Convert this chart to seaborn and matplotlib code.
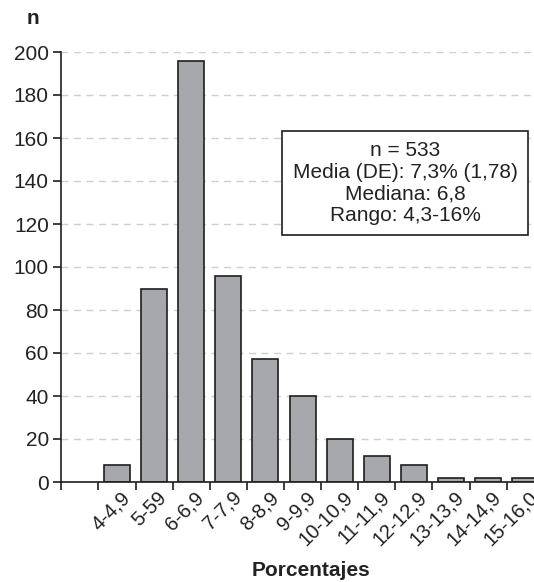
import numpy as np
import pandas as pd
import seaborn as sns
import matplotlib.pyplot as plt
import matplotlib.transforms as mtransforms

# data
labels = ["4-4,9", "5-59", "6-6,9", "7-7,9", "8-8,9", "9-9,9", "10-10,9",
          "11-11,9", "12-12,9", "13-13,9", "14-14,9", "15-16,0"]
counts = [8, 90, 196, 96, 57, 40, 20, 12, 8, 2, 2, 2]
yticks = [0, 20, 40, 60, 80, 100, 120, 140, 160, 180, 200]
stats_text = "n = 533\nMedia (DE): 7,3% (1,78)\nMediana: 6,8\nRango: 4,3-16%"

df = pd.DataFrame({"rango": labels, "n": counts})

sns.set_theme(style="white")
plt.rcParams['font.family'] = ['Liberation Sans', 'DejaVu Sans']

fig = plt.figure(figsize=(5.34, 5.82), dpi=100)
ax = fig.add_axes([61.3 / 534, 100 / 582, (543.8 - 61.3) / 534, 430 / 582])

sns.barplot(data=df, x="rango", y="n", order=labels, color="#a7a8ac",
            edgecolor="#1e1e1e", linewidth=1.2, width=0.7, saturation=1, ax=ax)

ax.set_xlim(-1.5, len(labels) - 0.5)
ax.set_ylim(0, 200)
ax.set_yticks(yticks)
ax.yaxis.grid(True, linestyle=(0, (5, 4)), color="#cfcfcf", linewidth=1.0)
ax.set_axisbelow(True)

for s in ["top", "right"]:
    ax.spines[s].set_visible(False)
for s in ["left", "bottom"]:
    ax.spines[s].set_color("#1e1e1e")
    ax.spines[s].set_linewidth(1.2)

# category ticks at bar boundaries, labels at centers
ax.set_xticks(np.arange(-1.5, len(labels), 1.0), minor=True)
ax.set_xticks(np.arange(len(labels)))
ax.set_xticklabels(labels, rotation=45, ha="right", va="center",
                   rotation_mode="anchor", fontsize=14.5, color="#222222")
ax.tick_params(axis="x", which="major", length=0, pad=9)
ax.tick_params(axis="x", which="minor", length=6, width=1.2, color="#1e1e1e",
               direction="out", bottom=True)
ax.tick_params(axis="y", length=6, width=1.2, color="#1e1e1e", direction="out",
               left=True, labelsize=15, labelcolor="#222222", pad=3)
offset = mtransforms.ScaledTranslation(0.1, 0, fig.dpi_scale_trans)
for t in ax.get_xticklabels():
    t.set_transform(t.get_transform() + offset)

ax.set_xlabel("")
ax.set_ylabel("")

fig.text(33 / 534, 1 - 19 / 582, "n", fontsize=15, fontweight="bold",
         ha="center", va="center", color="#222222")
fig.text(311 / 534, 1 - 570 / 582, "Porcentajes", fontsize=15,
         fontweight="bold", ha="center", va="center", color="#222222")

fig.text(405 / 534, 1 - 183 / 582, stats_text, fontsize=15, ha="center",
         va="center", linespacing=1.18, color="#222222",
         bbox=dict(boxstyle="square,pad=0.5", facecolor="white",
                   edgecolor="#1e1e1e", linewidth=1.2))

fig.savefig("out.png", dpi=100)
